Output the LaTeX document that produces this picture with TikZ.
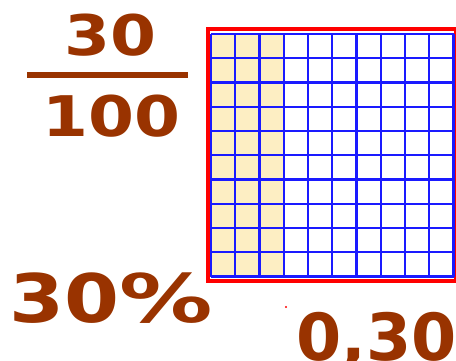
\documentclass[tikz,border=0pt]{standalone}
\usepackage{fontspec}
\newfontfamily\numfont{DejaVu Sans}[FakeStretch=1.18]
\newfontfamily\decfont{DejaVu Sans}
\usetikzlibrary{positioning}
\definecolor{numbrown}{HTML}{993300}
\definecolor{cellfill}{HTML}{FDEEC3}
\definecolor{gridblue}{HTML}{1A1AFF}

\begin{document}
\begin{tikzpicture}[
    x=1pt, y=-1pt,
    numtext/.style={text=numbrown, anchor=base, inner sep=0pt,
        font=\numfont\bfseries\fontsize{#1}{#1}\selectfont},
    gridline/.style={gridblue, line width=2.3pt}
]
    \useasboundingbox (0,0) rectangle (456,361);

    % 分数 30/100
    \node[numtext=56] (numer) at (110.5,56) {30};
    \fill[numbrown] (27,72) rectangle (188,78);
    \node[numtext=56] (denom) at (111.5,136) {100};

    % 百分数与小数
    \node[numtext=67] (percent) at (111.5,322) {30\scalebox{1.18}[1]{\%}};
    \node[numtext=66, font=\decfont\bfseries\fontsize{65}{65}\selectfont,
        anchor=base west] (decimal) at (296,360) {0,30};

    % 百格图
    \def\gx{211}
    \def\gy{34}
    \def\cell{24.25}
    \fill[white] (208,29) rectangle (456,280.5);
    \fill[cellfill] (\gx,\gy) rectangle ++({3*\cell},{10*\cell});
    \draw[red, line width=4pt] (208,29) rectangle (456,280.5);
    \foreach \i in {0,...,10} {
        \draw[gridline] ({\gx+\i*\cell},\gy) -- ++(0,{10*\cell});
        \draw[gridline] (\gx,{\gy+\i*\cell}) -- ++({10*\cell},0);
    }

    % 小红点
    \fill[red] (286,307) circle (1.2);
\end{tikzpicture}
\end{document}
